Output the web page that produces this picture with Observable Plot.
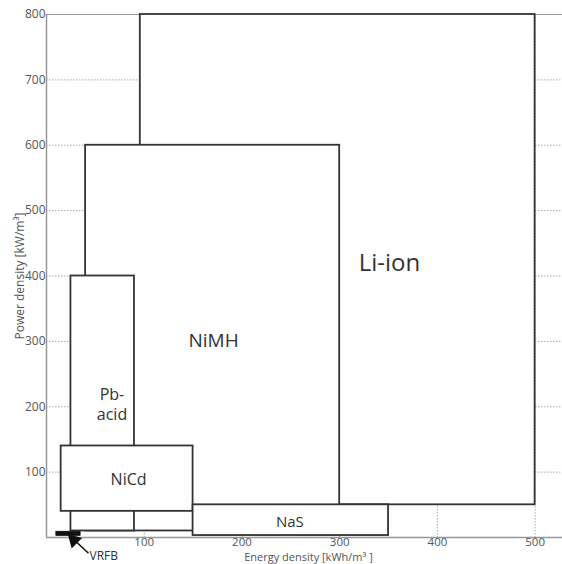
<!DOCTYPE html>
<html><head><meta charset="utf-8">
<script src="https://cdn.jsdelivr.net/npm/d3@7"></script>
<script src="https://cdn.jsdelivr.net/npm/@observablehq/plot@0.6"></script>
<style>body{margin:0;background:#fff}</style>
</head><body><div id="chart"></div>
<script>
// Ranges of each technology (energy density kWh/m3, power density kW/m3)
const technologies = ["Li-ion", "NiMH", "Pb-acid", "NiCd", "NaS", "VRFB"];
const energyMin = [96, 40, 25, 15, 150, 10];
const energyMax = [500, 300, 90, 150, 350, 35];
const powerMin = [50, 10, 10, 40, 3, 2];
const powerMax = [800, 600, 400, 140, 50, 9];

// Box labels (placed in data coordinates)
const labelText = ["Li-ion", "NiMH", "Pb-\nacid", "NiCd", "NaS"];
const labelEnergy = [351, 171, 67, 84, 249];
const labelPower = [423, 303, 205, 90, 26];
const labelSize = [24, 19, 16, 16, 15];

// VRFB call-out arrow (data coordinates)
const arrowFrom = [43, -24];
const arrowTo = [25, 1];
const arrowHead = [28, -4];
const vrfbLabelAt = [44, -29];

const xTicks = [100, 200, 300, 400, 500];
const yTicks = [100, 200, 300, 400, 500, 600, 700, 800];

const boxes = technologies.map((name, i) => ({
  name, x1: energyMin[i], x2: energyMax[i], y1: powerMin[i], y2: powerMax[i]
}));
const labels = labelText.map((t, i) => ({t, x: labelEnergy[i], y: labelPower[i], s: labelSize[i]}));

const ink = "#333";
const plot = Plot.plot({
  width: 562,
  height: 564,
  marginLeft: 46,
  marginRight: 0,
  marginTop: 14,
  marginBottom: 27,
  style: {fontFamily: "'Open Sans', sans-serif", fontSize: "12px", color: "#555", background: "#fff"},
  x: {domain: [0, 528]},
  y: {domain: [0, 800]},
  marks: [
    Plot.gridY(yTicks.slice(0, -1), {stroke: "#aaa", strokeOpacity: 1, strokeDasharray: "1.5,1.5"}),
    Plot.gridX(xTicks, {stroke: "#aaa", strokeOpacity: 1, strokeDasharray: "1.5,1.5"}),
    Plot.ruleY([800], {stroke: "#999", strokeWidth: 1.2}),
    Plot.ruleY([0], {stroke: "#999", strokeWidth: 1.5}),
    Plot.ruleX([0], {stroke: "#999", strokeWidth: 1.5}),
    Plot.axisY(yTicks, {tickSize: 0, tickPadding: 1, fill: "#555",
      label: "Power density [kW/m³]", labelAnchor: "center", labelArrow: "none", labelOffset: 31}),
    Plot.axisX(xTicks, {tickSize: 0, tickPadding: 0, fill: "#555", fontSize: 11.5,
      label: null}),
    Plot.text([0], {frameAnchor: "bottom", dy: 23, lineAnchor: "bottom", text: () => "Energy density [kWh/m³ ]",
      fontSize: 11, fill: "#555", dx: 4}),
    Plot.rect(boxes.filter(d => d.name !== "VRFB"), {x1: "x1", x2: "x2", y1: "y1", y2: "y2",
      fill: "white", stroke: ink, strokeWidth: 1.8}),
    Plot.rect(boxes.filter(d => d.name === "VRFB"), {x1: "x1", x2: "x2", y1: "y1", y2: "y2",
      fill: "#111", stroke: "#111", strokeWidth: 0.5}),
    Plot.text(labels, {x: "x", y: "y", text: "t", fontSize: d => d.s, fill: ink, lineHeight: 1.28}),
    Plot.link([0], {x1: () => arrowFrom[0], y1: () => arrowFrom[1], x2: () => arrowTo[0], y2: () => arrowTo[1],
      stroke: "#111", strokeWidth: 1.5}),
    Plot.dot([0], {x: () => arrowHead[0], y: () => arrowHead[1], symbol: "triangle", r: 5.5,
      rotate: -45, fill: "#111", stroke: "none"}),
    Plot.text([0], {x: () => vrfbLabelAt[0], y: () => vrfbLabelAt[1], text: () => "VRFB",
      textAnchor: "start", fontSize: 12, fill: ink})
  ]
});
document.getElementById("chart").append(plot);
</script>
</body></html>
